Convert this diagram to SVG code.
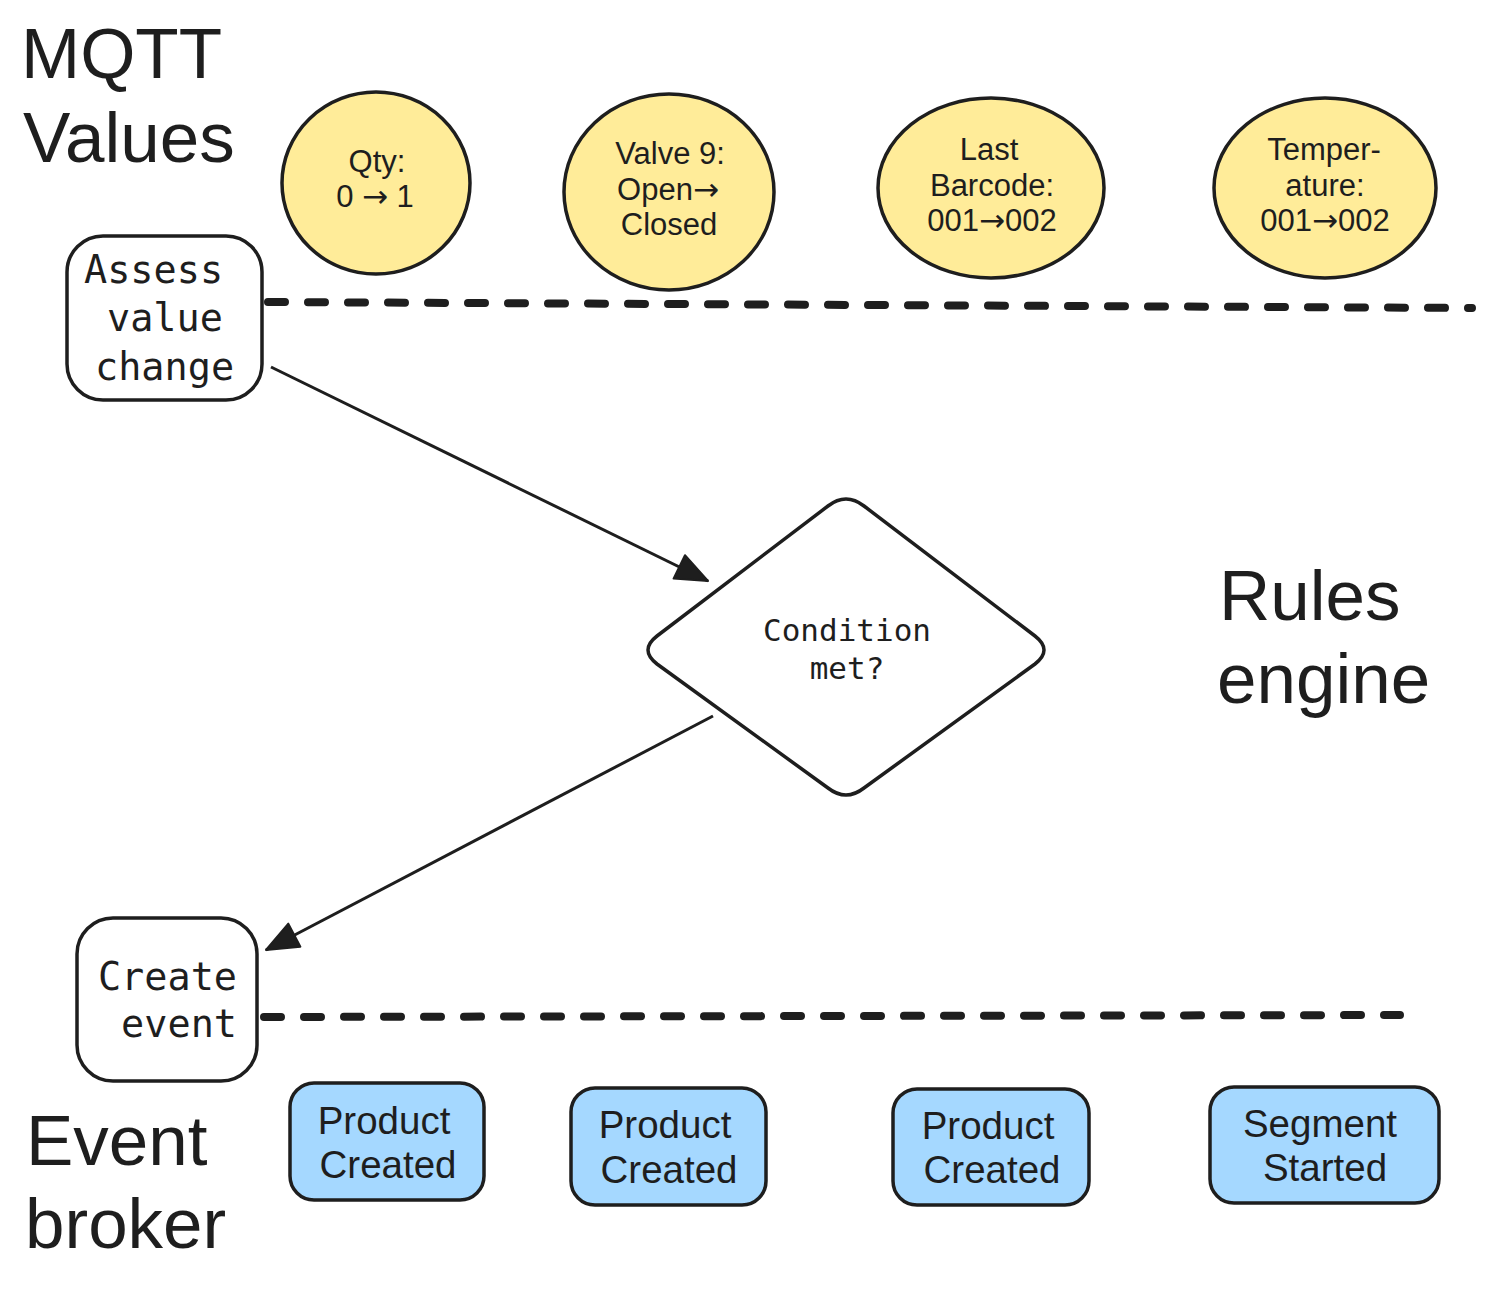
<svg xmlns="http://www.w3.org/2000/svg" width="1491" height="1292" viewBox="0 0 1491 1292">
<defs>
<style>
.big{font-family:"Liberation Sans",Arial,sans-serif;font-size:71px;fill:#1e1e1e}
.ell{fill:#ffec99;stroke:#1e1e1e;stroke-width:3.5}
.blue{fill:#a5d8ff;stroke:#1e1e1e;stroke-width:3.5}
.wbox{fill:#ffffff;stroke:#1e1e1e;stroke-width:3.5}
.t28{font-family:"Liberation Sans",Arial,sans-serif;font-size:31px;fill:#1e1e1e;text-anchor:middle}
.ar{font-family:"DejaVu Sans",sans-serif}
.t37{font-family:"Liberation Sans",Arial,sans-serif;font-size:38.5px;fill:#1e1e1e;text-anchor:middle}
.mono{font-family:"DejaVu Sans Mono","Liberation Mono",monospace;font-size:38.5px;fill:#1e1e1e}
.mono30{font-family:"DejaVu Sans Mono","Liberation Mono",monospace;font-size:31px;fill:#1e1e1e;text-anchor:middle}
.dash{fill:none;stroke:#1e1e1e;stroke-width:8;stroke-linecap:round;stroke-dasharray:17 23}
.arrow{fill:none;stroke:#1e1e1e;stroke-width:3}
</style>
<marker id="head" viewBox="0 0 36 30" refX="34" refY="15" markerWidth="36" markerHeight="30" markerUnits="userSpaceOnUse" orient="auto">
<path d="M2,2 L34,15 L2,28 z" fill="#1e1e1e" stroke="#1e1e1e" stroke-width="2" stroke-linejoin="round"/>
</marker>
</defs>
<rect width="1491" height="1292" fill="#ffffff"/>

<g id="labels">
<text class="big" x="21" y="78">MQTT</text>
<text class="big" x="23" y="162">Values</text>
<text class="big" x="1219" y="620">Rules</text>
<text class="big" x="1217" y="703">engine</text>
<text class="big" x="26" y="1165">Event</text>
<text class="big" x="25" y="1248">broker</text>
</g>

<g id="connectors">
<path class="dash" d="M268,302 L1472,308"/>
<path class="dash" d="M264,1017 L1400,1015"/>
<path class="arrow" d="M271,367 L708,581" marker-end="url(#head)"/>
<path class="arrow" d="M713,716 L266,950" marker-end="url(#head)"/>
</g>

<g id="qty">
<ellipse class="ell" cx="376" cy="183" rx="94" ry="91"/>
<text class="t28" x="377" y="172">Qty:</text>
<text class="t28" x="375" y="207">0 <tspan class="ar">→</tspan> 1</text>
</g>
<g id="valve">
<ellipse class="ell" cx="669" cy="192" rx="105" ry="98"/>
<text class="t28" x="670" y="164">Valve 9:</text>
<text class="t28" x="668" y="200">Open<tspan class="ar">→</tspan></text>
<text class="t28" x="669" y="235">Closed</text>
</g>
<g id="barcode">
<ellipse class="ell" cx="991" cy="188" rx="113" ry="90"/>
<text class="t28" x="989" y="160">Last</text>
<text class="t28" x="992" y="196">Barcode:</text>
<text class="t28" x="992" y="231">001<tspan class="ar">→</tspan>002</text>
</g>
<g id="temperature">
<ellipse class="ell" cx="1325" cy="188" rx="111" ry="90"/>
<text class="t28" x="1324" y="160">Temper-</text>
<text class="t28" x="1325" y="196">ature:</text>
<text class="t28" x="1325" y="231">001<tspan class="ar">→</tspan>002</text>
</g>

<g id="assess">
<rect class="wbox" x="67" y="236" width="195" height="164" rx="36"/>
<text class="mono" x="84" y="283">Assess</text>
<text class="mono" x="107" y="331">value</text>
<text class="mono" x="95" y="380">change</text>
</g>

<g id="condition">
<path class="wbox" d="M828,506 Q846,492 864,506 L1035,636 Q1053,650 1035,664 L864,788 Q846,802 828,788 L657,664 Q639,650 657,636 Z"/>
<text class="mono30" x="847" y="641">Condition</text>
<text class="mono30" x="847" y="679">met?</text>
</g>

<g id="create">
<rect class="wbox" x="77" y="918" width="180" height="163" rx="36"/>
<text class="mono" x="237" y="990" text-anchor="end">Create</text>
<text class="mono" x="237" y="1037" text-anchor="end">event</text>
</g>

<g id="ev1">
<rect class="blue" x="290" y="1083" width="194" height="117" rx="24"/>
<text class="t37" x="384" y="1134">Product</text>
<text class="t37" x="388" y="1178">Created</text>
</g>
<g id="ev2">
<rect class="blue" x="571" y="1088" width="195" height="117" rx="24"/>
<text class="t37" x="665" y="1138">Product</text>
<text class="t37" x="669" y="1183">Created</text>
</g>
<g id="ev3">
<rect class="blue" x="893" y="1089" width="196" height="116" rx="24"/>
<text class="t37" x="988" y="1139">Product</text>
<text class="t37" x="992" y="1183">Created</text>
</g>
<g id="ev4">
<rect class="blue" x="1210" y="1087" width="229" height="116" rx="24"/>
<text class="t37" x="1320" y="1137">Segment</text>
<text class="t37" x="1325" y="1181">Started</text>
</g>
</svg>
